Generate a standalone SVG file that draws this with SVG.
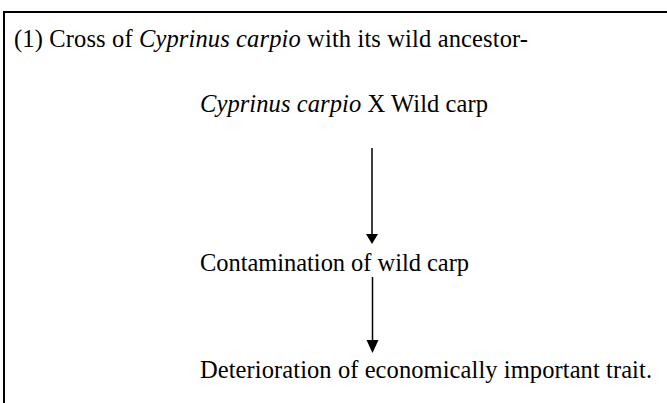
<svg xmlns="http://www.w3.org/2000/svg" width="667" height="403" viewBox="0 0 667 403">
<style>
text{font-size:24.5px;fill:#000}
.i{font-style:italic}
.c{stroke:#000;stroke-width:1.5;fill:none}
</style>
<rect width="667" height="403" fill="#fff"/>
<path d="M4,403 V12 H667" fill="none" stroke="#000" stroke-width="2"/>
<g font-family="Liberation Serif, Times New Roman, serif">
<g id="title"><text x="14" y="47" textLength="514" lengthAdjust="spacing">(1) Cross of <tspan class="i">Cyprinus carpio</tspan> with its wild ancestor-</text></g>
<g id="cross"><text x="200" y="112" textLength="288" lengthAdjust="spacing"><tspan class="i">Cyprinus carpio</tspan> X Wild carp</text></g>
<g id="contamination"><text x="200" y="271" textLength="269" lengthAdjust="spacing">Contamination of wild carp</text></g>
<g id="deterioration"><text x="200" y="378" textLength="452" lengthAdjust="spacing">Deterioration of economically important trait.</text></g>
</g>
<g id="connectors">
<line class="c" x1="372" y1="148" x2="372" y2="235"/>
<path d="M366,234 L378,234 L372,244 Z" fill="#000"/>
<line class="c" x1="372.5" y1="277" x2="372.5" y2="341"/>
<path d="M366.5,340 L378.5,340 L372.5,353 Z" fill="#000"/>
</g>
</svg>
